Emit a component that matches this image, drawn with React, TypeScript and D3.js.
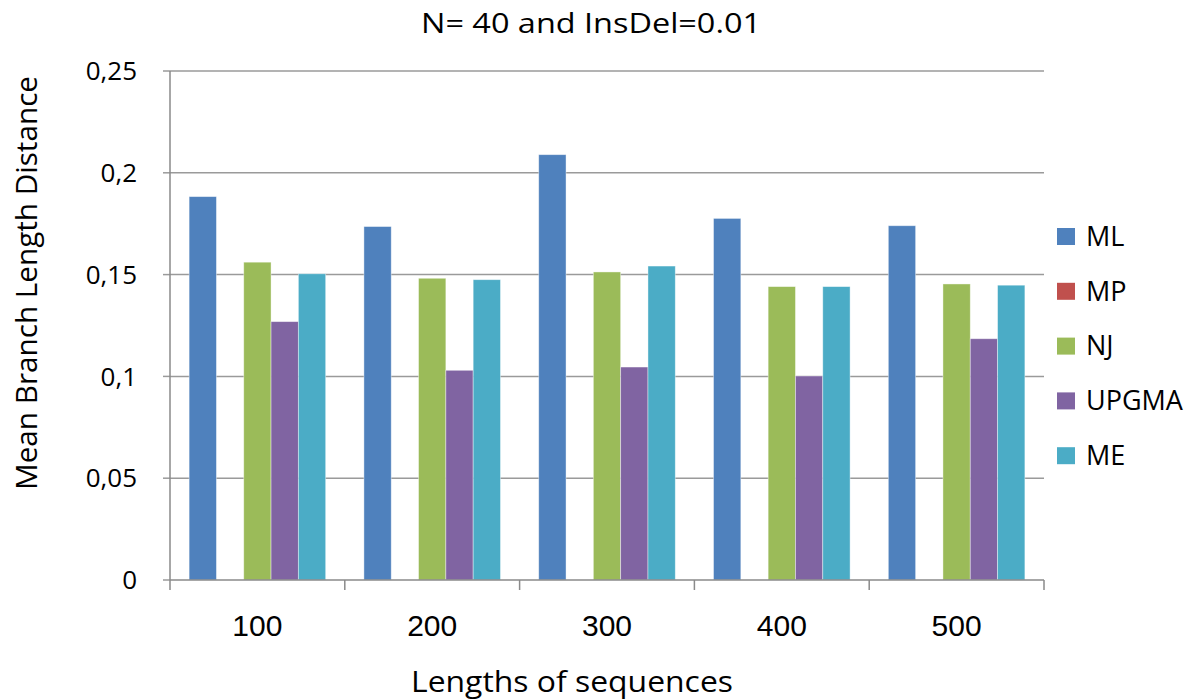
import React from "react";
import * as d3 from "d3";

const categories = ["100", "200", "300", "400", "500"];
const seriesNames = ["ML", "MP", "NJ", "UPGMA", "ME"];
const mlValues = [0.1883, 0.1736, 0.2089, 0.1776, 0.174];
const mpValues = [0, 0, 0, 0, 0];
const njValues = [0.1561, 0.1482, 0.1513, 0.1441, 0.1454];
const upgmaValues = [0.1269, 0.103, 0.1046, 0.1002, 0.1185];
const meValues = [0.1504, 0.1475, 0.1542, 0.1441, 0.1448];
const yTicks = [0, 0.05, 0.1, 0.15, 0.2, 0.25];
const colors = ["#4F81BD", "#C0504D", "#9BBB59", "#8064A2", "#4BACC6"];

const W = 1203;
const H = 699;
const left = 170;
const right = 1044;
const top = 71;
const bottom = 580;
const font = "'Open Sans', sans-serif";
const numFont = "'Liberation Sans', Arial, sans-serif";

export default function App() {
  const series = [mlValues, mpValues, njValues, upgmaValues, meValues];
  const x0 = d3.scaleBand<string>().domain(categories).range([left, right]).padding(0);
  const cw = x0.bandwidth();
  const bw = cw / (seriesNames.length + 1.4);
  const x1 = d3
    .scaleBand<string>()
    .domain(seriesNames)
    .range([(cw - bw * seriesNames.length) / 2, (cw + bw * seriesNames.length) / 2])
    .padding(0);
  const y = d3.scaleLinear().domain([0, 0.25]).range([bottom, top]);
  const fmt = (v: number) => (v === 0 ? "0" : String(v).replace(".", ","));
  const tickXs = [left, ...categories.map((c) => (x0(c) as number) + cw)];

  return (
    <svg
      width={W}
      height={H}
      style={{ position: "absolute", left: 0, top: 0, background: "#fff" }}
      fontFamily={font}
    >
      <rect x={0} y={0} width={W} height={H} fill="#fff" />
      <text
        x={591}
        y={33}
        textAnchor="middle"
        fontSize={28}
        fill="#000"
        textLength={340}
        lengthAdjust="spacingAndGlyphs"
      >
        N= 40 and InsDel=0.01
      </text>
      {yTicks.map((t) => (
        <g key={t}>
          {t > 0 && (
            <line x1={left} x2={right} y1={y(t)} y2={y(t)} stroke="#9a9a9a" strokeWidth={1.5} />
          )}
          <line x1={left - 7} x2={left} y1={y(t)} y2={y(t)} stroke="#9a9a9a" strokeWidth={1.5} />
          <text x={137} y={y(t)} dy="0.35em" textAnchor="end" fontSize={26} fill="#000">
            {fmt(t)}
          </text>
        </g>
      ))}
      {categories.map((c, ci) =>
        series.map((vals, si) => {
          const v = vals[ci];
          if (v <= 0) return null;
          const bx = (x0(c) as number) + (x1(seriesNames[si]) as number);
          return (
            <rect
              key={c + si}
              x={bx}
              y={y(v)}
              width={x1.bandwidth()}
              height={bottom - y(v)}
              fill={colors[si]}
              stroke="#ffffff"
              strokeOpacity={0.5}
              strokeWidth={0.8}
            />
          );
        })
      )}
      <line x1={left} x2={left} y1={top} y2={bottom} stroke="#8a8a8a" strokeWidth={1.5} />
      <line x1={left} x2={right} y1={bottom} y2={bottom} stroke="#8a8a8a" strokeWidth={1.5} />
      {tickXs.map((tx, i) => (
        <line key={i} x1={tx} x2={tx} y1={bottom} y2={bottom + 10} stroke="#8a8a8a" strokeWidth={1.5} />
      ))}
      {categories.map((c) => (
        <text
          key={c}
          x={(x0(c) as number) + cw / 2}
          y={636}
          textAnchor="middle"
          fontSize={30}
          fontFamily={numFont}
          fill="#000"
        >
          {c}
        </text>
      ))}
      <text
        x={572}
        y={692}
        textAnchor="middle"
        fontSize={29}
        fill="#000"
        textLength={322}
        lengthAdjust="spacingAndGlyphs"
      >
        Lengths of sequences
      </text>
      <text
        transform={`translate(37,283) rotate(-90)`}
        textAnchor="middle"
        fontSize={29}
        fill="#000"
        textLength={414}
        lengthAdjust="spacingAndGlyphs"
      >
        Mean Branch Length Distance
      </text>
      {seriesNames.map((s, i) => {
        const ly = 236 + i * 54.8;
        return (
          <g key={s}>
            <rect x={1057} y={ly - 8} width={18} height={17} fill={colors[i]} />
            <text x={1086} y={ly} dy="0.36em" fontSize={27} fill="#000">
              {s}
            </text>
          </g>
        );
      })}
    </svg>
  );
}
